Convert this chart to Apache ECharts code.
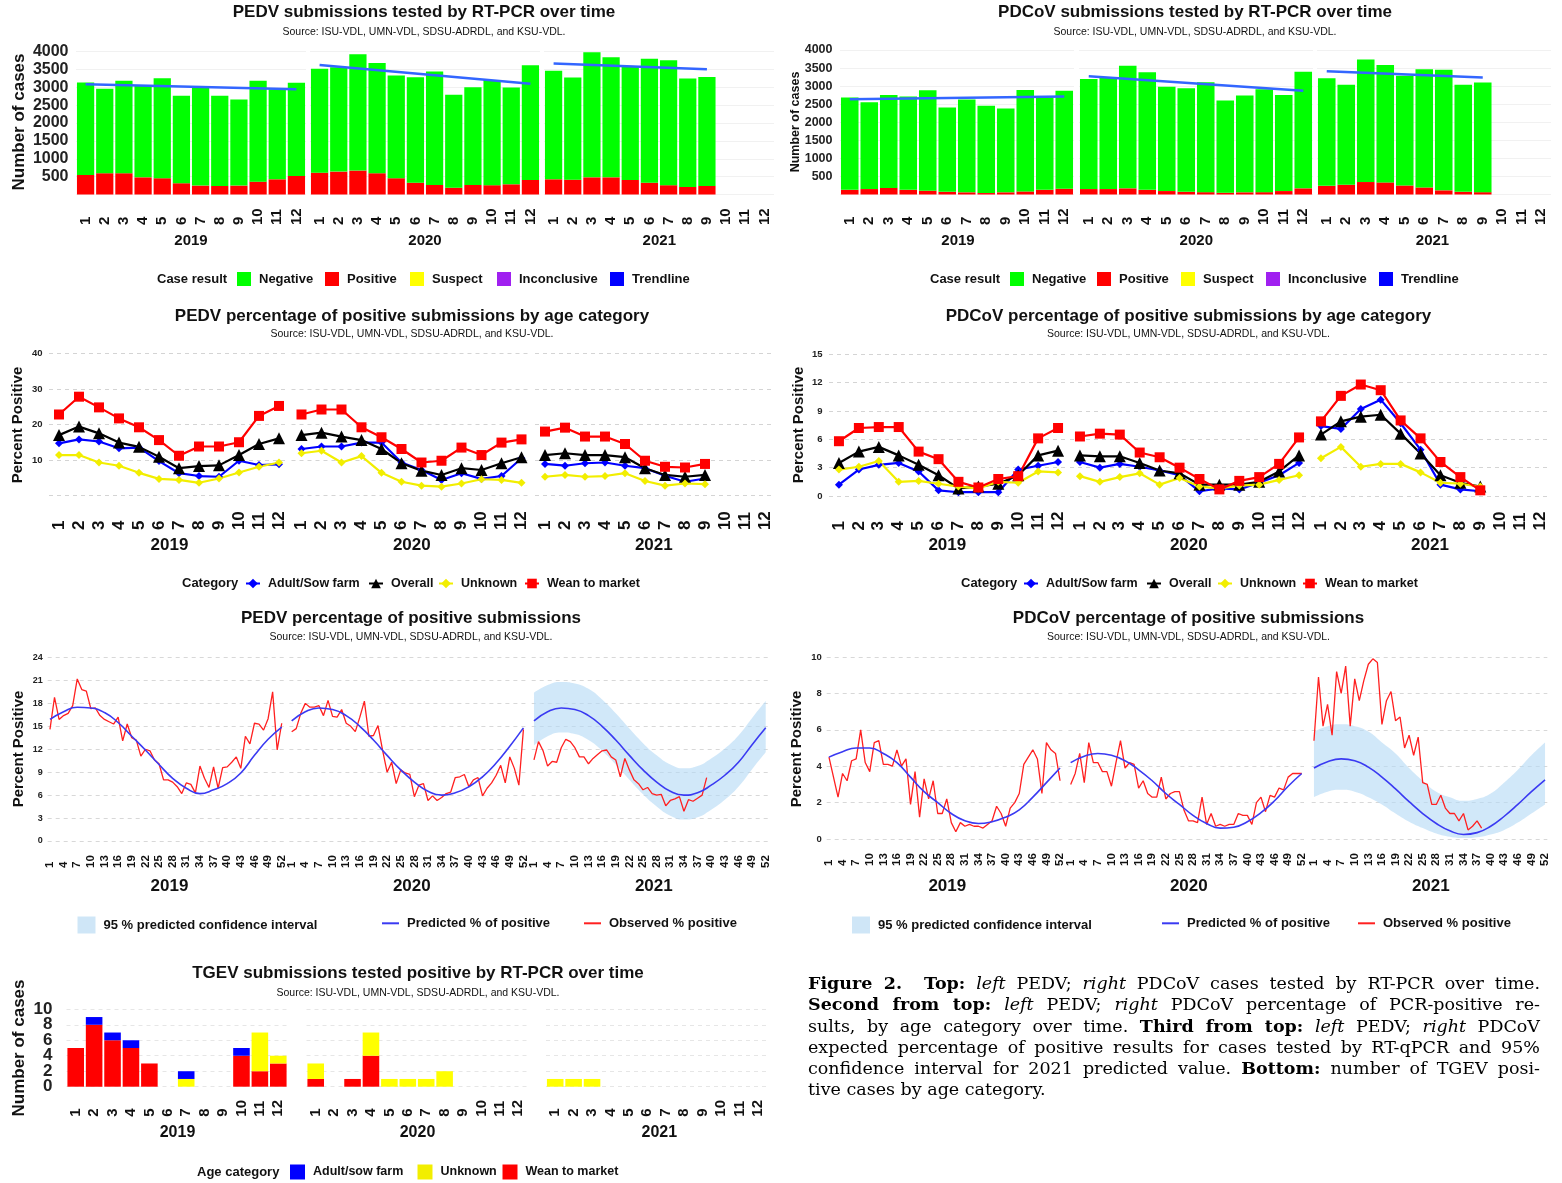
<!DOCTYPE html>
<html>
<head>
<meta charset="utf-8">
<script src="https://cdn.jsdelivr.net/npm/echarts@6.0.0/dist/echarts.min.js"></script>
<style>
  html, body { margin: 0; padding: 0; background: #fff; }
  #chart { position: absolute; left: 0; top: 0; width: 1562px; height: 1183px; }
  #caption { position: absolute; left: 808px; top: 973px; width: 732px;
    font-family: "DejaVu Serif", serif; font-size: 17.5px; line-height: 21.3px; color: #000; }
  #caption div { text-align: justify; text-align-last: justify; }
  #caption div.last { text-align-last: left; }
</style>
</head>
<body>
<div id="chart"></div>
<div id="caption">
  <div><b>Figure 2.</b>&nbsp; <b>Top:</b> <i>left</i> PEDV; <i>right</i> PDCoV cases tested by RT-PCR over time.</div>
  <div><b>Second from top:</b> <i>left</i> PEDV; <i>right</i> PDCoV percentage of PCR-positive re-</div>
  <div>sults, by age category over time. <b>Third from top:</b> <i>left</i> PEDV; <i>right</i> PDCoV</div>
  <div>expected percentage of positive results for cases tested by RT-qPCR and 95%</div>
  <div>confidence interval for 2021 predicted value. <b>Bottom:</b> number of TGEV posi-</div>
  <div class="last">tive cases by age category.</div>
</div>

<script>
  // ---- data ----
  const years = ['2019', '2020', '2021'];
  const months = ['1', '2', '3', '4', '5', '6', '7', '8', '9', '10', '11', '12'];
  const weeks = ['1', '2', '3', '4', '5', '6', '7', '8', '9', '10', '11', '12', '13', '14', '15', '16', '17', '18',
    '19', '20', '21', '22', '23', '24', '25', '26', '27', '28', '29', '30', '31', '32', '33', '34', '35', '36',
    '37', '38', '39', '40', '41', '42', '43', '44', '45', '46', '47', '48', '49', '50', '51', '52'];
  const predWeeks = ['1', '4', '7', '10', '13', '16', '19', '22', '25', '28', '31', '34', '37', '40', '43', '46', '49', '52'];

  // monthly submissions (total) and positives
  const pedvTotal = [
    [3130, 2955, 3180, 3065, 3255, 2760, 3000, 2760, 2655, 3180, 2945, 3125],
    [3515, 3560, 3925, 3675, 3330, 3280, 3440, 2790, 3000, 3205, 2990, 3615],
    [3460, 3270, 3980, 3840, 3580, 3795, 3755, 3245, 3290]
  ];
  const pedvPos = [
    [545, 595, 595, 480, 455, 315, 250, 240, 250, 360, 425, 520],
    [610, 640, 670, 595, 455, 330, 265, 190, 265, 260, 285, 405],
    [425, 415, 480, 480, 405, 330, 260, 210, 240]
  ];
  const pedvTrend = [[3085, 2945], [3625, 3095], [3665, 3505]];

  const pdcovTotal = [
    [2685, 2555, 2755, 2710, 2885, 2405, 2630, 2455, 2380, 2895, 2690, 2875],
    [3200, 3245, 3565, 3385, 2985, 2940, 3105, 2600, 2740, 2915, 2755, 3400],
    [3215, 3040, 3740, 3585, 3290, 3465, 3455, 3035, 3100]
  ];
  const pdcovPos = [
    [130, 150, 180, 130, 105, 75, 60, 40, 60, 85, 130, 160],
    [150, 150, 170, 130, 95, 75, 65, 50, 60, 65, 95, 170],
    [240, 270, 345, 335, 250, 195, 115, 75, 65]
  ];
  const pdcovTrend = [[2635, 2710], [3270, 2875], [3415, 3240]];

  // percent positive by age category
  const pedvAdult = [
    [14.7, 15.8, 15.2, 13.3, 13.5, 9.7, 6.3, 5.5, 5.3, 9.8, 8.6, 8.8],
    [13.1, 13.8, 13.8, 14.9, 14.9, 9.3, 7.2, 4.4, 6.3, 4.7, 5.5, 10.5],
    [8.9, 8.4, 9.1, 9.3, 8.4, 7.7, 5.6, 3.9, 4.8]
  ];
  const pedvOverall = [
    [17.0, 19.4, 17.5, 14.9, 13.7, 10.9, 7.7, 8.3, 8.5, 11.4, 14.5, 16.1],
    [17.0, 17.7, 16.6, 15.6, 13.1, 9.1, 7.0, 5.8, 7.7, 7.2, 9.1, 10.8],
    [11.4, 11.9, 11.4, 11.4, 10.8, 7.7, 5.8, 5.3, 5.8]
  ];
  const pedvUnknown = [
    [11.4, 11.4, 9.3, 8.4, 6.4, 4.7, 4.4, 3.6, 4.8, 6.5, 8.1, 9.3],
    [11.9, 12.6, 9.3, 11.1, 6.4, 3.9, 2.8, 2.5, 3.4, 4.6, 4.4, 3.6],
    [5.3, 5.8, 5.3, 5.5, 6.3, 4.1, 2.8, 3.4, 3.2]
  ];
  const pedvWean = [
    [22.8, 27.8, 24.8, 21.7, 19.2, 15.6, 11.2, 13.8, 13.8, 15.0, 22.4, 25.2],
    [22.8, 24.2, 24.2, 19.2, 16.4, 13.1, 9.3, 9.8, 13.5, 11.4, 14.9, 15.8],
    [18.0, 19.1, 16.6, 16.6, 14.5, 9.8, 8.1, 7.9, 8.9]
  ];
  const pdcovAdult = [
    [1.2, 2.8, 3.3, 3.5, 2.6, 0.6, 0.4, 0.4, 0.4, 2.8, 3.2, 3.6],
    [3.6, 3.0, 3.4, 3.1, 2.7, 2.2, 0.5, 0.8, 0.7, 1.4, 2.2, 3.5],
    [7.4, 7.1, 9.2, 10.2, 7.7, 4.9, 1.2, 0.7, 0.5]
  ];
  const pdcovOverall = [
    [3.5, 4.7, 5.2, 4.3, 3.3, 2.2, 0.8, 1.0, 1.3, 2.2, 4.3, 4.8],
    [4.3, 4.2, 4.2, 3.5, 2.7, 2.4, 1.2, 1.2, 1.2, 1.5, 2.6, 4.3],
    [6.5, 7.9, 8.4, 8.6, 6.6, 4.5, 2.2, 1.4, 1.0]
  ];
  const pdcovUnknown = [
    [2.8, 3.1, 3.7, 1.5, 1.6, 1.3, 1.0, 0.8, 1.5, 1.4, 2.6, 2.5],
    [2.1, 1.5, 2.0, 2.4, 1.2, 1.9, 1.0, 0.8, 1.1, 1.2, 1.7, 2.2],
    [4.0, 5.2, 3.1, 3.4, 3.4, 2.5, 1.4, 1.3, 1.0]
  ];
  const pdcovWean = [
    [5.8, 7.2, 7.3, 7.3, 4.7, 3.9, 1.5, 0.9, 1.8, 2.1, 6.1, 7.2],
    [6.3, 6.6, 6.5, 4.6, 4.1, 3.0, 1.8, 0.7, 1.6, 2.0, 3.4, 6.2],
    [7.9, 10.6, 11.8, 11.2, 8.0, 6.1, 3.6, 2.0, 0.6]
  ];

  // weekly observed percent positive
  const pedvObs = [
    [14.6, 18.8, 15.9, 16.4, 16.7, 17.7, 21.2, 19.8, 19.6, 17.3, 17.4, 16.4, 15.9, 15.6, 15.3, 16.2, 13.1, 15.3,
      13.5, 13.2, 11.1, 12.0, 11.8, 10.6, 10.1, 8.0, 8.0, 7.7, 7.1, 6.2, 7.6, 7.4, 6.3, 9.8, 8.2, 7.0,
      9.7, 6.9, 9.6, 9.7, 10.3, 11.0, 9.5, 13.7, 12.7, 15.4, 15.3, 14.5, 16.0, 19.5, 11.9, 15.4],
    [14.3, 14.7, 16.7, 18.0, 17.5, 17.5, 17.7, 16.4, 18.4, 16.3, 16.2, 17.2, 15.4, 15.0, 14.3, 16.2, 18.3, 13.7,
      13.8, 15.1, 11.9, 9.0, 10.3, 7.5, 9.3, 8.9, 8.7, 5.8, 7.3, 7.5, 5.3, 5.9, 5.3, 5.7, 6.2, 6.4,
      8.3, 8.4, 8.7, 7.1, 8.0, 8.3, 5.9, 6.9, 7.6, 8.6, 9.9, 7.6, 11.0, 9.5, 7.3, 14.6],
    [10.6, 13.0, 11.8, 9.8, 10.4, 10.3, 12.2, 13.3, 13.0, 12.2, 11.0, 11.0, 10.1, 10.8, 11.3, 11.8, 11.9, 11.0,
      10.6, 8.4, 10.8, 9.3, 8.0, 7.5, 6.7, 7.0, 6.2, 6.0, 6.1, 4.6, 5.3, 5.5, 5.8, 3.9, 5.4, 5.2,
      5.6, 6.0, 8.3]
  ];
  const pdcovObs = [
    [4.5, 3.4, 2.3, 3.6, 3.2, 4.3, 4.4, 6.0, 4.2, 3.7, 5.3, 5.4, 4.1, 4.1, 4.0, 4.9, 4.0, 4.4,
      1.9, 3.7, 1.2, 3.3, 2.2, 3.2, 1.4, 1.4, 2.2, 0.9, 0.4, 0.9, 0.7, 0.8, 0.7, 0.7, 0.6, 0.8,
      1.0, 1.8, 1.4, 0.7, 1.7, 2.0, 2.5, 4.1, 4.5, 4.9, 4.4, 2.5, 5.3, 4.9, 4.7, 3.2],
    [3.0, 3.6, 4.7, 3.1, 5.3, 4.2, 4.2, 3.7, 3.7, 2.9, 4.2, 5.4, 3.9, 4.2, 4.1, 2.8, 3.2, 2.5,
      2.3, 2.3, 3.4, 2.2, 2.5, 2.6, 2.6, 1.6, 1.0, 1.0, 0.9, 2.3, 0.8, 1.4, 0.7, 0.8, 0.7, 0.8,
      0.8, 1.4, 1.3, 1.3, 0.8, 2.0, 2.3, 1.5, 2.4, 2.3, 2.8, 2.7, 3.4, 3.6, 3.6, 3.6],
    [5.4, 8.9, 6.2, 7.4, 5.7, 9.2, 8.0, 9.5, 6.2, 8.8, 7.6, 8.7, 9.6, 9.9, 9.7, 6.3, 7.6, 8.1,
      6.5, 6.7, 5.0, 5.7, 4.6, 5.6, 3.1, 3.0, 1.9, 1.9, 2.4, 1.7, 1.4, 1.4, 1.0, 1.4, 0.5, 0.7,
      1.0, 0.6]
  ];

  // predicted percent positive (read every third week) and 2021 95% band
  const pedvPred = [
    [15.9, 16.9, 17.5, 17.4, 16.8, 15.5, 13.7, 11.9, 10.0, 8.2, 6.9, 6.2, 6.7, 7.5, 8.9, 11.2, 13.3, 14.9],
    [15.7, 16.9, 17.4, 17.2, 16.4, 15.0, 13.2, 11.2, 9.3, 7.7, 6.5, 6.0, 6.3, 7.1, 8.4, 10.2, 12.4, 14.8],
    [15.7, 16.9, 17.4, 17.2, 16.4, 15.0, 13.2, 11.2, 9.3, 7.7, 6.5, 6.0, 6.3, 7.3, 8.6, 10.3, 12.6, 14.8]
  ];
  const pedvCiLow = [12.5, 13.7, 14.2, 14.0, 13.2, 11.8, 10.0, 8.0, 6.1, 4.5, 3.3, 2.8, 3.1, 4.1, 5.4, 7.1, 9.4, 11.6];
  const pedvCiHigh = [19.4, 20.4, 20.8, 20.6, 19.9, 18.5, 16.7, 14.7, 12.8, 11.2, 10.0, 9.5, 9.8, 10.8, 12.1, 13.8, 16.1, 18.3];
  const pdcovPred = [
    [4.5, 4.8, 5.0, 5.0, 4.7, 4.2, 3.4, 2.6, 2.0, 1.4, 1.0, 0.85, 0.95, 1.2, 1.6, 2.3, 3.1, 3.9],
    [4.2, 4.55, 4.7, 4.6, 4.3, 3.8, 3.2, 2.5, 1.9, 1.3, 0.85, 0.6, 0.65, 0.95, 1.45, 2.1, 2.9, 3.6],
    [3.9, 4.25, 4.4, 4.3, 3.95, 3.4, 2.75, 2.05, 1.4, 0.85, 0.45, 0.25, 0.35, 0.7, 1.25, 1.9, 2.6, 3.25]
  ];
  const pdcovCiLow = [2.3, 2.6, 2.7, 2.6, 2.3, 1.9, 1.4, 0.95, 0.6, 0.3, 0.12, 0.05, 0.1, 0.25, 0.5, 0.9, 1.4, 1.9];
  const pdcovCiHigh = [5.9, 6.2, 6.3, 6.2, 5.9, 5.3, 4.7, 3.9, 3.2, 2.6, 2.3, 2.1, 2.2, 2.5, 3.1, 3.8, 4.6, 5.3];

  // TGEV positive cases by age category
  const tgevWean = [[5, 8, 6, 5, 3, 0, 0, 0, 0, 4, 2, 3], [1, 0, 1, 4, 0, 0, 0, 0, 0, 0, 0, 0], [0, 0, 0, 0, 0, 0, 0, 0, 0, 0, 0, 0]];
  const tgevUnknown = [[0, 0, 0, 0, 0, 0, 1, 0, 0, 0, 5, 1], [2, 0, 0, 3, 1, 1, 1, 2, 0, 0, 0, 0], [1, 1, 1, 0, 0, 0, 0, 0, 0, 0, 0, 0]];
  const tgevAdult = [[0, 1, 1, 1, 0, 0, 1, 0, 0, 1, 0, 0], [0, 0, 0, 0, 0, 0, 0, 0, 0, 0, 0, 0], [0, 0, 0, 0, 0, 0, 0, 0, 0, 0, 0, 0]];

  // ---- chart building ----
  const FONT = '"Liberation Sans", Arial, sans-serif';
  const SOURCE = 'Source: ISU-VDL, UMN-VDL, SDSU-ADRDL, and KSU-VDL.';
  const grids = [], xAxes = [], yAxes = [], series = [], graphics = [], legends = [];

  const txt = (text, x, y, size, weight, extra) => {
    graphics.push(Object.assign({
      type: 'text', x: x, y: y, silent: true,
      style: { text: text, font: `${weight} ${size}px ${FONT}`, fill: '#111', textAlign: 'center', textVerticalAlign: 'middle' }
    }, extra || {}));
  };
  const vtxt = (text, x, y, size) => txt(text, x, y, size, 'bold', { rotation: Math.PI / 2 });
  const ltxt = (text, x, y) => {
    graphics.push({ type: 'text', x: x, y: y, silent: true,
      style: { text: text, font: `bold 13px ${FONT}`, fill: '#111', textAlign: 'left', textVerticalAlign: 'middle' } });
  };

  const legendAt = (item, left, top, w, h, icon, fs) => {
    const l = {
      data: [item], left: left, top: top, padding: 0, itemWidth: w, itemHeight: h, selectedMode: false,
      textStyle: { fontFamily: FONT, fontSize: fs || 13, fontWeight: 'bold', color: '#111', padding: [0, 0, 0, 3] }
    };
    if (icon) l.icon = icon;
    legends.push(l);
  };

  const yLabelBase = { fontFamily: FONT, fontWeight: 'bold', color: '#222',
    showMinLabel: true, showMaxLabel: true, hideOverlap: false };

  const addFacet = (left, width, top, height, cats, xLab, yAx, first) => {
    const i = grids.length;
    grids.push({ left: left, top: top, width: width, height: height, containLabel: false, outerBoundsMode: 'none' });
    xAxes.push({
      type: 'category', gridIndex: i, data: cats,
      axisLine: { show: false }, axisTick: { show: false }, splitLine: { show: false },
      axisLabel: Object.assign({ rotate: 90, align: 'left', verticalAlign: 'middle', hideOverlap: false,
        fontFamily: FONT, fontWeight: 'bold', color: '#111' }, xLab)
    });
    yAxes.push(Object.assign({
      type: 'value', gridIndex: i, axisLine: { show: false }, axisTick: { show: false }
    }, yAx, {
      axisLabel: Object.assign({ show: first,
        formatter: v => (yAx.hideZero && v === 0 ? '' : String(v)) }, yLabelBase, yAx.label)
    }));
    return i;
  };

  // ---- submissions (stacked bars) ----
  const barPanel = (lefts, width, top, height, totals, pos, trend, yLabelSize) => {
    lefts.forEach((left, f) => {
      const g = addFacet(left, width, top, height, months,
        { interval: 0, margin: 30.5, fontSize: 15 },
        { min: 0, max: 4000, interval: 500, hideZero: true, label: { fontSize: yLabelSize, margin: 7.5 },
          splitLine: { lineStyle: { color: '#f1f1f1', width: 1 } } }, f === 0);
      const base = { xAxisIndex: g, yAxisIndex: g, stack: 'c' + g, barCategoryGap: '10%' };
      series.push(Object.assign({ type: 'bar', name: 'Positive', data: pos[f], itemStyle: { color: '#ff0000' } }, base));
      series.push(Object.assign({ type: 'bar', name: 'Negative',
        data: totals[f].map((t, i) => t - pos[f][i]), itemStyle: { color: '#00ff00' } }, base));
      if (f === 0) {
        series.push(Object.assign({ type: 'bar', name: 'Suspect', data: [], itemStyle: { color: '#ffff00' } }, base));
        series.push(Object.assign({ type: 'bar', name: 'Inconclusive', data: [], itemStyle: { color: '#a020f0' } }, base));
      }
      series.push({ type: 'line', name: 'Trendline', xAxisIndex: g, yAxisIndex: g, z: 5, symbol: 'none',
        data: [[months[0], trend[f][0]], [months[totals[f].length - 1], trend[f][1]]],
        itemStyle: { color: '#3366ff' }, lineStyle: { color: '#3366ff', width: 2.5 } });
    });
  };

  barPanel([76, 310, 544], 230, 51.5, 143, pedvTotal, pedvPos, pedvTrend, 16);
  barPanel([840, 1079, 1317], 234, 50, 144.5, pdcovTotal, pdcovPos, pdcovTrend, 12.5);

  // ---- age category lines ----
  const ageCats = [
    { name: 'Adult/Sow farm', color: '#0000ff', symbol: 'diamond', size: 8 },
    { name: 'Overall', color: '#000000', symbol: 'triangle', size: 12 },
    { name: 'Unknown', color: '#f2ee00', symbol: 'diamond', size: 8 },
    { name: 'Wean to market', color: '#ff0000', symbol: 'rect', size: 10 }
  ];
  const linePanel = (lefts, width, top, height, ymax, step, hideZero, sets) => {
    lefts.forEach((left, f) => {
      const g = addFacet(left, width, top, height, months,
        { interval: 0, margin: 34.5, fontSize: 17 },
        { min: 0, max: ymax, interval: step, hideZero: hideZero, label: { fontSize: 9.5, margin: 6.5 },
          splitLine: { lineStyle: { color: '#d4d4d4', type: [4, 4], width: 1 } } }, f === 0);
      ageCats.forEach((c, k) => {
        series.push({ type: 'line', name: c.name, xAxisIndex: g, yAxisIndex: g, data: sets[k][f],
          symbol: c.symbol, symbolSize: c.size, itemStyle: { color: c.color },
          lineStyle: { color: c.color, width: 2.2 } });
      });
    });
  };
  linePanel([49, 291.5, 535], 240, 353.3, 142.3, 40, 10, true, [pedvAdult, pedvOverall, pedvUnknown, pedvWean]);
  linePanel([829, 1070, 1311], 239, 354.3, 141.7, 15, 3, false, [pdcovAdult, pdcovOverall, pdcovUnknown, pdcovWean]);

  // ---- weekly percent positive with prediction ----
  const CI_NAME = '95 % predicted confidence interval';
  const weekPanel = (lefts, width, top, height, ymax, step, obs, pred, ciLow, ciHigh, yLabelSize) => {
    lefts.forEach((left, f) => {
      const g = addFacet(left, width, top, height, weeks,
        { interval: 2, margin: 27, fontSize: 11.5 },
        { min: 0, max: ymax, interval: step, label: { fontSize: yLabelSize, margin: 5 },
          splitLine: { lineStyle: { color: '#d8d8d8', type: [4, 4], width: 1 } } }, f === 0);
      series.push({ type: 'line', name: 'Observed % positive', xAxisIndex: g, yAxisIndex: g, data: obs[f],
        symbol: 'none', itemStyle: { color: '#ff2020' }, lineStyle: { color: '#ff2020', width: 1.3 } });
      series.push({ type: 'line', name: 'Predicted % of positive', xAxisIndex: g, yAxisIndex: g, smooth: 0.5,
        data: predWeeks.map((w, i) => [w, pred[f][i]]),
        symbol: 'none', itemStyle: { color: '#3a3af2' }, lineStyle: { color: '#3a3af2', width: 1.6 } });
      if (f === 2) {
        series.push({ type: 'line', name: 'ciLow', xAxisIndex: g, yAxisIndex: g, stack: 'ci' + g, smooth: 0.5,
          data: predWeeks.map((w, i) => [w, ciLow[i]]), symbol: 'none', silent: true,
          lineStyle: { opacity: 0 } });
        series.push({ type: 'line', name: CI_NAME, xAxisIndex: g, yAxisIndex: g, stack: 'ci' + g, smooth: 0.5,
          data: predWeeks.map((w, i) => [w, ciHigh[i] - ciLow[i]]), symbol: 'none', silent: true,
          itemStyle: { color: '#cfe6f7' }, lineStyle: { opacity: 0 },
          areaStyle: { color: 'rgba(180,218,245,0.62)', opacity: 1 } });
      }
    });
  };
  weekPanel([47.7, 289.4, 531.7], 236.3, 657.5, 183.5, 24, 3, pedvObs, pedvPred, pedvCiLow, pedvCiHigh, 9);
  weekPanel([826.7, 1068.4, 1311.7], 235.6, 657, 182, 10, 2, pdcovObs, pdcovPred, pdcovCiLow, pdcovCiHigh, 9.5);

  // ---- TGEV stacked bars ----
  // its big tick labels sit closer than their own height, so every other label goes on a
  // second (label-only) axis of the first facet, which keeps ECharts from dropping any
  let tgevFirst = -1;
  [66.5, 306.5, 546].forEach((left, f) => {
    const g = addFacet(left, 221, 1009.3, 77.4, months,
      { interval: 0, margin: 30, fontSize: 15 },
      { min: 0, max: 10, interval: 2,
        label: { fontSize: 17, margin: 14, formatter: v => (v % 4 === 0 ? String(v) : '') },
        splitLine: { lineStyle: { color: '#e6e6e6', type: [4, 4], width: 1 } } }, f === 0);
    if (f === 0) tgevFirst = g;
    const base = { type: 'bar', xAxisIndex: g, yAxisIndex: g, stack: 't' + g, barCategoryGap: '10%' };
    series.push(Object.assign({ name: 'Wean to market', data: tgevWean[f], itemStyle: { color: '#ff0000' } }, base));
    series.push(Object.assign({ name: 'Unknown', data: tgevUnknown[f], itemStyle: { color: '#ffff00' } }, base));
    series.push(Object.assign({ name: 'Adult/sow farm', data: tgevAdult[f], itemStyle: { color: '#0000ff' } }, base));
  });
  yAxes.push({
    type: 'value', gridIndex: tgevFirst, position: 'left', min: 0, max: 10, interval: 2,
    axisLine: { show: false }, axisTick: { show: false }, splitLine: { show: false },
    axisLabel: Object.assign({}, yLabelBase, { fontSize: 17, margin: 14,
      formatter: v => (v % 4 === 2 ? String(v) : '') })
  });

  // ---- titles, axis names, year strips ----
  const heads = [
    ['PEDV submissions tested by RT-PCR over time', 424, 12.7, 31.7],
    ['PDCoV submissions tested by RT-PCR over time', 1195, 12.7, 31.7],
    ['PEDV percentage of positive submissions by age category', 412, 316, 334.3],
    ['PDCoV percentage of positive submissions by age category', 1188.5, 316, 334.3],
    ['PEDV percentage of positive submissions', 411, 618.3, 637.3],
    ['PDCoV percentage of positive submissions', 1188.5, 618.3, 637.3],
    ['TGEV submissions tested positive by RT-PCR over time', 418, 973.3, 993.3]
  ];
  heads.forEach(h => {
    txt(h[0], h[1], h[2], 17, 'bold');
    txt(SOURCE, h[1], h[3], 10.5, 'normal', {});
  });

  vtxt('Number of cases', 19, 122, 17);
  vtxt('Number of cases', 796, 122, 12.5);
  vtxt('Percent Positive', 18, 425, 15);
  vtxt('Percent Positive', 798.5, 425, 15);
  vtxt('Percent Positive', 19, 749, 15);
  vtxt('Percent Positive', 797, 749, 15);
  vtxt('Number of cases', 19, 1048, 17);

  const yearRows = [
    [[191, 425, 659.3], 241, 15],
    [[958, 1196.3, 1432.5], 241, 15],
    [[169.5, 411.8, 653.8], 545, 17],
    [[947.3, 1188.8, 1430], 545, 17],
    [[169.5, 411.8, 653.8], 886, 17],
    [[947.3, 1188.8, 1430.8], 886, 17],
    [[177.5, 417.5, 659.3], 1132.7, 16]
  ];
  yearRows.forEach(r => r[0].forEach((x, i) => txt(years[i], x, r[1], r[2], 'bold')));

  // ---- legends ----
  ltxt('Case result', 157, 279);
  [['Negative', 237], ['Positive', 325], ['Suspect', 410], ['Inconclusive', 497]]
    .forEach(d => legendAt(d[0], d[1], 272, 14, 14, 'rect'));
  legendAt({ name: 'Trendline', itemStyle: { color: '#0000ff' } }, 610, 272, 14, 14, 'rect');

  ltxt('Case result', 930, 279);
  [['Negative', 1010], ['Positive', 1097], ['Suspect', 1181], ['Inconclusive', 1266]]
    .forEach(d => legendAt(d[0], d[1], 272, 14, 14, 'rect'));
  legendAt({ name: 'Trendline', itemStyle: { color: '#0000ff' } }, 1379, 272, 14, 14, 'rect');

  ltxt('Category', 182, 583);
  [['Adult/Sow farm', 245], ['Overall', 368], ['Unknown', 438], ['Wean to market', 524]]
    .forEach(d => legendAt(d[0], d[1], 577, 14, 12, null, 12.5));
  ltxt('Category', 961, 583);
  [['Adult/Sow farm', 1023], ['Overall', 1146], ['Unknown', 1217], ['Wean to market', 1302]]
    .forEach(d => legendAt(d[0], d[1], 577, 14, 12, null, 12.5));

  const lineKey = name => ({ name: name, itemStyle: { opacity: 0 } });
  legendAt({ name: CI_NAME, icon: 'rect', itemStyle: { color: '#cfe6f7' } }, 77.5, 916.5, 18, 17);
  legendAt(lineKey('Predicted % of positive'), 381, 916.5, 17, 17);
  legendAt(lineKey('Observed % positive'), 583, 916.5, 17, 17);
  legendAt({ name: CI_NAME, icon: 'rect', itemStyle: { color: '#cfe6f7' } }, 852, 916.5, 18, 17);
  legendAt(lineKey('Predicted % of positive'), 1161, 916.5, 17, 17);
  legendAt(lineKey('Observed % positive'), 1357, 916.5, 17, 17);

  ltxt('Age category', 197, 1172);
  [['Adult/sow farm', 290], ['Unknown', 417.5], ['Wean to market', 502.5]]
    .forEach(d => legendAt(d[0], d[1], 1164.5, 15, 15, 'rect', 12.5));

  const chart = echarts.init(document.getElementById('chart'), null, { renderer: 'canvas' });
  chart.setOption({
    animation: false,
    backgroundColor: '#ffffff',
    grid: grids,
    xAxis: xAxes,
    yAxis: yAxes,
    legend: legends,
    series: series,
    graphic: { elements: graphics }
  });
</script>
</body>
</html>
